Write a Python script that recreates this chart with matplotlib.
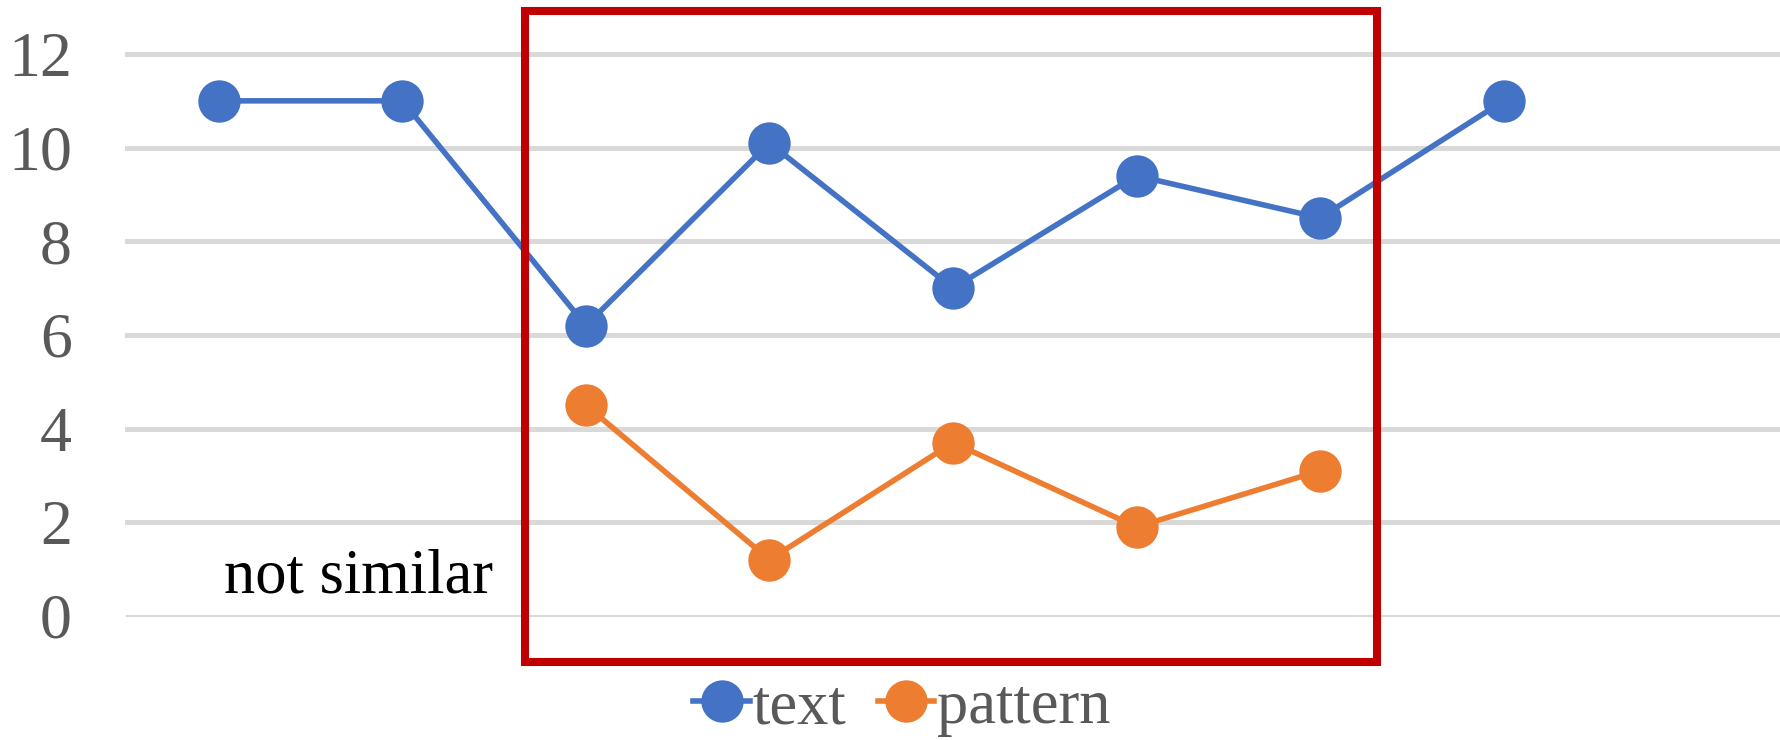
import numpy as np
import matplotlib
matplotlib.use("Agg")
import matplotlib.pyplot as plt
from matplotlib.patches import Rectangle

# data (9 category slots, last one empty)
categories = list(range(9))
text_vals = [11, 11, 6.2, 10.1, 7.0, 9.4, 8.5, 11, np.nan]
pattern_vals = [np.nan, np.nan, 4.5, 1.2, 3.7, 1.9, 3.1, np.nan, np.nan]
y_ticks = [0, 2, 4, 6, 8, 10, 12]

BLUE = "#4472C4"
ORANGE = "#ED7D31"
RED = "#C00000"
GRID = "#D9D9D9"
LABEL = "#595959"

plt.rcParams['font.family'] = ['Liberation Serif', 'DejaVu Serif']

fig = plt.figure(figsize=(17.81, 7.40), dpi=100)
ax = fig.add_axes([0.0713, 0.1677, 0.9276, 0.7593])

ax.plot(categories, text_vals, color=BLUE, lw=4.0, marker='o', ms=30.5,
        mec=BLUE, mew=0, label='text', zorder=3)
ax.plot(categories, pattern_vals, color=ORANGE, lw=4.0, marker='o', ms=30.5,
        mec=ORANGE, mew=0, label='pattern', zorder=3)

ax.set_xlim(-0.5, 8.5)
ax.set_ylim(0, 12)
ax.set_yticks(y_ticks)
ax.set_xticks([])
ax.tick_params(axis='y', length=0, pad=39.6, labelsize=46, labelcolor=LABEL)
for s in ax.spines.values():
    s.set_visible(False)

ax.yaxis.grid(True, color=GRID, lw=3.6)
ax.set_axisbelow(True)
for val, gl in zip(y_ticks, ax.get_ygridlines()):
    gl.set_clip_on(False)
    if val == 0:
        gl.set_linewidth(1.5)

ax.text(0.03, 0.5, "not similar", fontsize=45, color='black',
        ha='left', va='baseline', zorder=4)

# red highlight box (figure coordinates)
fig.patches.append(Rectangle((0.2945, 0.1054), 0.4784, 0.88, transform=fig.transFigure,
                             fill=False, edgecolor=RED, lw=5.8, zorder=5))

leg = fig.legend(loc='center', bbox_to_anchor=(0.5065, 0.043), ncol=2, frameon=False,
                 fontsize=45, handlelength=0.9, handletextpad=0.05,
                 columnspacing=0.5, markerscale=1.0, borderpad=0, borderaxespad=0)
for t in leg.get_texts():
    t.set_color(LABEL)

fig.savefig("out.png", dpi=100)
